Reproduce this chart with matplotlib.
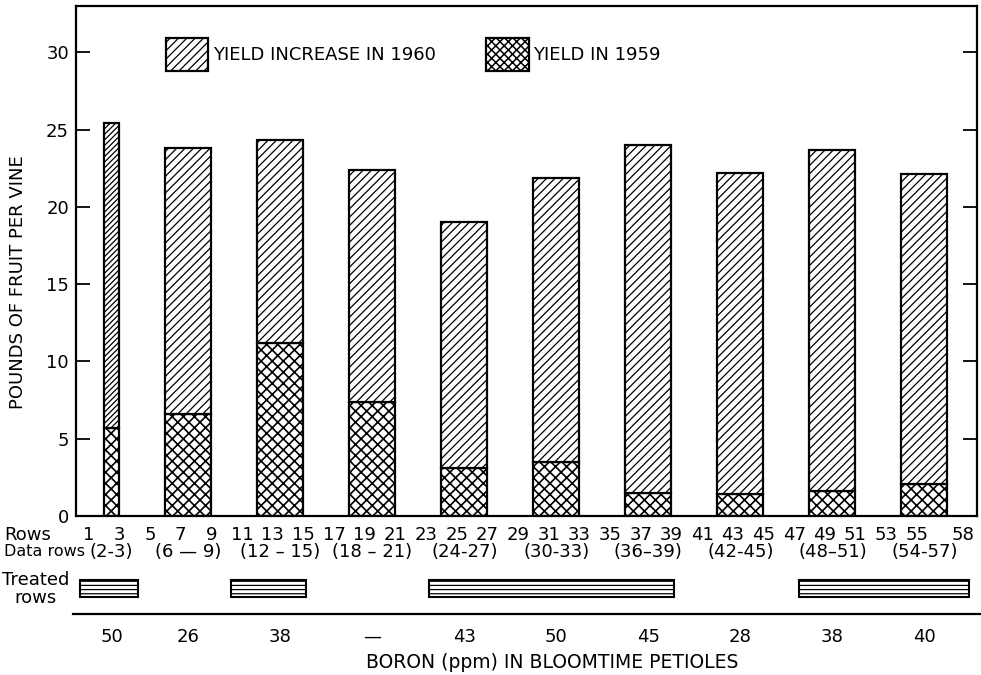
import matplotlib
matplotlib.use("Agg")
import matplotlib.pyplot as plt
from matplotlib.patches import Patch, Rectangle
from matplotlib.lines import Line2D

# ---------------- data ----------------
data_row_start = [2, 6, 12, 18, 24, 30, 36, 42, 48, 54]
data_row_end = [3, 9, 15, 21, 27, 33, 39, 45, 51, 57]
data_row_labels = ["(2-3)", "(6 \u2014 9)", "(12 \u2013 15)", "(18 \u2013 21)", "(24-27)",
                   "(30-33)", "(36\u201339)", "(42-45)", "(48\u201351)", "(54-57)"]
yield_1959 = [5.7, 6.6, 11.2, 7.4, 3.1, 3.5, 1.5, 1.4, 1.6, 2.1]
yield_total_1960 = [25.4, 23.8, 24.3, 22.4, 19.0, 21.9, 24.0, 22.2, 23.7, 22.1]
yield_increase_1960 = [t - b for t, b in zip(yield_total_1960, yield_1959)]
boron_ppm = ["50", "26", "38", "\u2014", "43", "50", "45", "28", "38", "40"]
row_ticks = [1, 3, 5, 7, 9, 11, 13, 15, 17, 19, 21, 23, 25, 27, 29, 31, 33, 35,
             37, 39, 41, 43, 45, 47, 49, 51, 53, 55, 58]
treated_start = [0.4, 10.3, 23.2, 47.3]
treated_end = [4.2, 15.2, 39.2, 58.4]
y_ticks = [0, 5, 10, 15, 20, 25, 30]

# ---------------- style ----------------
plt.rcParams['font.family'] = ['DejaVu Sans']
plt.rcParams['hatch.linewidth'] = 0.9
plt.rcParams['hatch.color'] = 'black'
FS = 13
W, H = 981, 675

fig = plt.figure(figsize=(W / 100, H / 100), dpi=100)
fig.patch.set_facecolor('white')

def fx(px):
    return px / W

def fy(py):
    return 1 - py / H

def set_hlw(artists, lw):
    for a in artists:
        if hasattr(a, 'set_hatch_linewidth'):
            a.set_hatch_linewidth(lw)

ax = fig.add_axes([fx(76), fy(516), fx(977) - fx(76), fy(6) - fy(516)])
ax.set_xlim(0.17, 58.93)
ax.set_ylim(0, 33.0)

widths = [e - s for s, e in zip(data_row_start, data_row_end)]
centers = [(s + e) / 2 for s, e in zip(data_row_start, data_row_end)]

for i in range(len(centers)):
    dens_inc = '//////' if widths[i] < 2 else '////'
    b1 = ax.bar(centers[i], yield_1959[i], width=widths[i], bottom=0,
                facecolor='white', edgecolor='black', linewidth=1.6, hatch='xxx')
    set_hlw(b1.patches, 1.2)
    b2 = ax.bar(centers[i], yield_increase_1960[i], width=widths[i], bottom=yield_1959[i],
                facecolor='white', edgecolor='black', linewidth=1.6, hatch=dens_inc)
    set_hlw(b2.patches, 0.9)

for sp in ax.spines.values():
    sp.set_linewidth(1.6)
ax.set_yticks(y_ticks)
ax.set_yticklabels([str(v) for v in y_ticks], fontsize=FS)
ax.tick_params(axis='y', direction='in', length=10, width=1.3, left=True,
               right=True, labelleft=True, labelright=False, pad=5)
ax.set_xticks([])

handles = [Patch(facecolor='white', edgecolor='black', linewidth=1.6, hatch='////',
                 label='YIELD INCREASE IN 1960'),
           Patch(facecolor='white', edgecolor='black', linewidth=1.6, hatch='xxxx',
                 label='YIELD IN 1959')]
leg = fig.legend(handles=handles, loc='upper left', bbox_to_anchor=(fx(166), fy(38)),
                 bbox_transform=fig.transFigure, ncol=2, frameon=False, fontsize=FS,
                 handlelength=2.35, handleheight=2.45, handletextpad=0.25,
                 columnspacing=2.8, borderpad=0, borderaxespad=0)
lh = getattr(leg, 'legend_handles', None) or getattr(leg, 'legendHandles', [])
if len(lh) == 2:
    set_hlw([lh[1]], 1.1)

fig.text(fx(18), fy(282), 'POUNDS OF FRUIT PER VINE', rotation=90,
         ha='center', va='center', fontsize=FS)

# ---------------- bottom annotation area ----------------
bx = fig.add_axes([fx(76), 0, fx(977) - fx(76), fy(516)])
bx.set_xlim(ax.get_xlim())
bx.set_ylim(H, 516)
bx.axis('off')

for r in row_ticks:
    bx.text(r, 535, str(r), ha='center', va='center', fontsize=FS)
for c, lab in zip(centers, data_row_labels):
    bx.text(c, 552, lab, ha='center', va='center', fontsize=FS)
for s, e in zip(treated_start, treated_end):
    bx.add_patch(Rectangle((s, 580), e - s, 17, facecolor='white', edgecolor='black',
                           linewidth=1.5, hatch='----', clip_on=False))
for c, b in zip(centers, boron_ppm):
    bx.text(c, 637, b, ha='center', va='center', fontsize=FS)

fig.text(fx(4), fy(535), 'Rows', ha='left', va='center', fontsize=FS)
fig.text(fx(4), fy(552), 'Data rows', ha='left', va='center', fontsize=FS - 1.5)
fig.text(fx(36), fy(589), 'Treated\nrows', ha='center', va='center', fontsize=FS,
         linespacing=0.95)

fig.add_artist(Line2D([fx(73), fx(981)], [fy(614), fy(614)], color='black',
                      linewidth=1.6, transform=fig.transFigure))
fig.text(fx(552), fy(662), 'BORON (ppm) IN BLOOMTIME PETIOLES', ha='center',
         va='center', fontsize=FS + 0.5)

fig.savefig('out.png', dpi=100, facecolor='white')
